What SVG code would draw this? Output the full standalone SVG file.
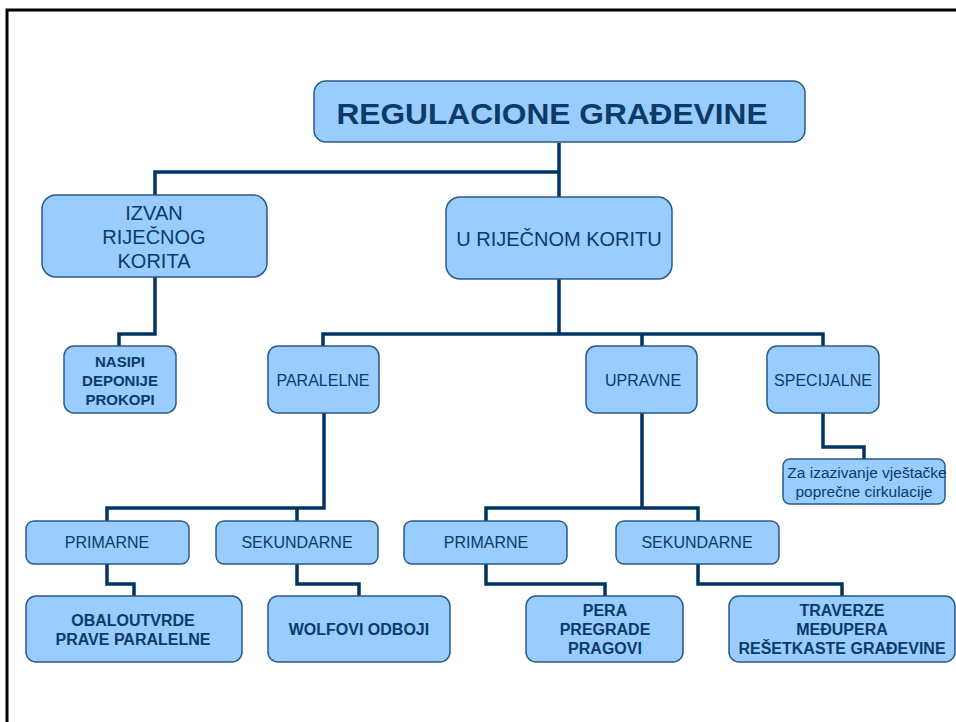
<svg xmlns="http://www.w3.org/2000/svg" width="956" height="722" viewBox="0 0 956 722">
<style>
.box{fill:#99CCFF;stroke:#2B5A86;stroke-width:1.5}
.t{font-family:"Liberation Sans",Arial,sans-serif;fill:#0B3B66;text-anchor:middle}
.b{font-weight:bold}
.c{fill:none;stroke:#003366;stroke-width:3.5}
</style>
<rect width="956" height="722" fill="#ffffff"/>
<path d="M7 722V10H956" fill="none" stroke="#000" stroke-width="3"/>
<g id="connectors">
<path class="c" d="M559 143V197M559 172H155V195"/>
<path class="c" d="M155 277V334H119V346"/>
<path class="c" d="M559 279V334M323 346V334H823V346M642 334V346"/>
<path class="c" d="M823 413V447H864V459"/>
<path class="c" d="M324 413V508H107V521M297 508V521"/>
<path class="c" d="M642 413V508M486 521V508H698V521"/>
<path class="c" d="M107 564V584H134V596"/>
<path class="c" d="M297 564V584H359V596"/>
<path class="c" d="M486 564V584H605V596"/>
<path class="c" d="M698 564V584H842V596"/>
</g>
<g id="n-root"><rect class="box" x="314" y="81" width="491" height="61" rx="12"/><text class="t b" x="552" y="124" font-size="30" textLength="431" lengthAdjust="spacingAndGlyphs">REGULACIONE GRAĐEVINE</text></g>
<g id="n-izvan"><rect class="box" x="42" y="195" width="225" height="82" rx="14"/><text class="t" x="154" y="220" font-size="20">IZVAN</text><text class="t" x="154" y="244" font-size="20">RIJEČNOG</text><text class="t" x="154" y="268" font-size="20">KORITA</text></g>
<g id="n-u"><rect class="box" x="446" y="197" width="226" height="82" rx="14"/><text class="t" x="559" y="246" font-size="20">U RIJEČNOM KORITU</text></g>
<g id="n-nasipi"><rect class="box" x="64" y="346" width="112" height="67" rx="10"/><text class="t b" x="120" y="367" font-size="15">NASIPI</text><text class="t b" x="120" y="386" font-size="15">DEPONIJE</text><text class="t b" x="120" y="405" font-size="15">PROKOPI</text></g>
<g id="n-paralelne"><rect class="box" x="268" y="346" width="111" height="67" rx="10"/><text class="t" x="323" y="386" font-size="16">PARALELNE</text></g>
<g id="n-upravne"><rect class="box" x="586" y="346" width="111" height="67" rx="10"/><text class="t" x="643" y="386" font-size="16">UPRAVNE</text></g>
<g id="n-specijalne"><rect class="box" x="767" y="346" width="112" height="67" rx="10"/><text class="t" x="823" y="386" font-size="16">SPECIJALNE</text></g>
<g id="n-za"><rect class="box" x="783" y="459" width="162" height="45" rx="7"/><text class="t" x="867" y="478" font-size="15.5">Za izazivanje vještačke</text><text class="t" x="864" y="497" font-size="15.5">poprečne cirkulacije</text></g>
<g id="n-prim1"><rect class="box" x="26" y="521" width="163" height="43" rx="8"/><text class="t" x="107" y="548" font-size="16">PRIMARNE</text></g>
<g id="n-sek1"><rect class="box" x="216" y="521" width="162" height="43" rx="8"/><text class="t" x="297" y="548" font-size="16">SEKUNDARNE</text></g>
<g id="n-prim2"><rect class="box" x="404" y="521" width="163" height="43" rx="8"/><text class="t" x="486" y="548" font-size="16">PRIMARNE</text></g>
<g id="n-sek2"><rect class="box" x="616" y="521" width="163" height="43" rx="8"/><text class="t" x="697" y="548" font-size="16">SEKUNDARNE</text></g>
<g id="n-obalo"><rect class="box" x="26" y="596" width="216" height="66" rx="10"/><text class="t b" x="133" y="626" font-size="16">OBALOUTVRDE</text><text class="t b" x="133" y="645" font-size="16">PRAVE PARALELNE</text></g>
<g id="n-wolf"><rect class="box" x="268" y="596" width="182" height="66" rx="10"/><text class="t b" x="359" y="635" font-size="16">WOLFOVI ODBOJI</text></g>
<g id="n-pera"><rect class="box" x="526" y="596" width="157" height="66" rx="10"/><text class="t b" x="605" y="616" font-size="16">PERA</text><text class="t b" x="605" y="635" font-size="16">PREGRADE</text><text class="t b" x="605" y="654" font-size="16">PRAGOVI</text></g>
<g id="n-trav"><rect class="box" x="729" y="596" width="226" height="66" rx="10"/><text class="t b" x="842" y="616" font-size="16">TRAVERZE</text><text class="t b" x="842" y="635" font-size="16">MEĐUPERA</text><text class="t b" x="842" y="654" font-size="16">REŠETKASTE GRAĐEVINE</text></g>
</svg>
